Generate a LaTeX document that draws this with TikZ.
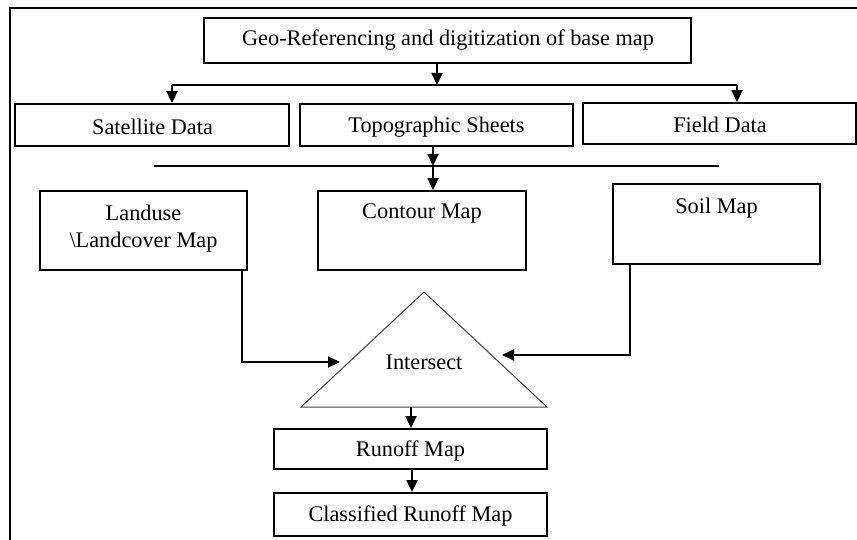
\documentclass[tikz,border=0pt]{standalone}
\usepackage{fontspec}
\setmainfont{Liberation Serif}
\usetikzlibrary{arrows.meta}
\begin{document}
\begin{tikzpicture}[x=1pt, y=-1pt,
  every node/.style={font=\fontsize{22.3}{27}\selectfont},
  box/.style={draw=black, line width=1.8pt, rectangle, inner sep=0pt},
  arr/.style={line width=1.8pt, -{Triangle[length=12pt,width=11pt]}},
  link/.style={line width=1.8pt},
  bus/.style={line width=1.5pt}]
  \useasboundingbox (0,0) rectangle (857,540);

  % outer frame (open at right and bottom)
  \draw[line width=2pt] (10,540) -- (10,8) -- (857,8);

  % process boxes
  \node[box, minimum width=487pt, minimum height=45pt] (geo) at (447.5,40.5) {};
  \node (geot) at (448,40) {Geo-Referencing and digitization of base map};

  \node[box, minimum width=274pt, minimum height=42pt] (sat) at (152,125) {};
  \node (satt) at (152.5,127) {Satellite Data};
  \node[box, minimum width=273pt, minimum height=42pt] (topo) at (436.5,125) {};
  \node (topot) at (436.5,127) {Topographic Sheets};
  \node[box, minimum width=273pt, minimum height=41pt] (field) at (719.5,123.5) {};
  \node (fieldt) at (720,125) {Field Data};

  \node[box, minimum width=207pt, minimum height=79pt] (land) at (143.5,230.5) {};
  \node[align=center] (landt) at (143.5,229) {Landuse\\\textbackslash Landcover Map};
  \node[box, minimum width=208pt, minimum height=79pt] (cont) at (422,230.5) {};
  \node (contt) at (422,213) {Contour Map};
  \node[box, minimum width=207pt, minimum height=80pt] (soil) at (716.5,224) {};
  \node (soilt) at (716.5,208) {Soil Map};

  % intersect triangle
  \coordinate (apex) at (424,292);
  \coordinate (bl) at (301,407);
  \coordinate (br) at (547,407);
  \draw[line width=1pt, draw=black!75] (apex) -- (br) -- (bl) -- cycle;
  \node (inter) at (424,362) {Intersect};

  \node[box, minimum width=273pt, minimum height=40pt] (run) at (410.5,449) {};
  \node (runt) at (410.5,451) {Runoff Map};
  \node[box, minimum width=273pt, minimum height=43pt] (cls) at (410.5,514.5) {};
  \node (clst) at (410.5,516) {Classified Runoff Map};

  % distribution from the base map
  \coordinate (j1) at (437,85);
  \coordinate (b1l) at (172,85);
  \coordinate (b1r) at (737,85);
  \draw[arr] (geo.south -| j1) -- (j1);
  \draw[bus] (b1l) -- (b1r);
  \draw[arr] (b1l) -- (b1l |- sat.north);
  \draw[arr] (b1r) -- (b1r |- field.north);

  % second bus below the source data
  \coordinate (j2) at (433,166);
  \coordinate (b2l) at (154,166);
  \coordinate (b2r) at (719,166);
  \draw[arr] (topo.south -| j2) -- (j2);
  \draw[bus] (b2l) -- (b2r);
  \draw[arr] (j2) -- (j2 |- cont.north);

  % thematic maps into the intersect
  \coordinate (lk) at (242,362);
  \coordinate (lt) at (340,362);
  \draw[arr] (land.south -| lk) -- (lk) -- (lt);
  \coordinate (sk) at (630,355);
  \coordinate (st) at (502,355);
  \draw[arr] (soil.south -| sk) -- (sk) -- (st);

  % outputs
  \coordinate (o1) at (411,407);
  \draw[arr] (o1) -- (o1 |- run.north);
  \coordinate (o2) at (412,469);
  \draw[arr] (run.south -| o2) -- (o2 |- cls.north);
\end{tikzpicture}
\end{document}
